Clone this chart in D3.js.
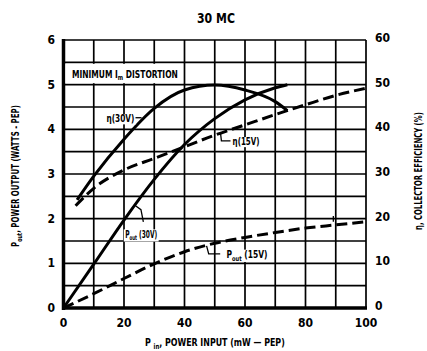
<!DOCTYPE html>
<html><head><meta charset="utf-8">
<script src="https://cdn.jsdelivr.net/npm/d3@7"></script>
<style>
html,body{margin:0;padding:0;background:#fff;}
text{font-family:"Liberation Sans Narrow","DejaVu Sans Condensed","Liberation Sans",sans-serif;font-weight:bold;fill:#000;}
</style></head>
<body><svg id="c" width="427" height="351"></svg>
<script>
// ---- data ----
const xTicks = [0, 20, 40, 60, 80, 100];
const leftTicks = [0, 1, 2, 3, 4, 5, 6];
const rightTicks = [0, 10, 20, 30, 40, 50, 60];

const effX30 = [4.5, 10, 20, 30, 40, 50, 60, 70, 74];
const eff30  = [24.2, 29.5, 37.8, 44.7, 48.8, 49.9, 48.8, 46.2, 44.2];   // η(30V) %
const effX15 = [4, 10, 20, 30, 40, 50, 60, 70, 80, 90, 100];
const eff15  = [22.9, 26.8, 30.9, 33.5, 36.1, 38.7, 41.0, 43.3, 45.5, 47.6, 49.2]; // η(15V) %
const powX30 = [0, 10, 20, 30, 40, 50, 60, 70, 74];
const pow30  = [0, 0.98, 1.97, 2.88, 3.66, 4.24, 4.66, 4.93, 5.0];  // Pout(30V) W
const powX15 = [0, 10, 20, 30, 40, 50, 60, 70, 80, 90, 100];
const pow15  = [0, 0.32, 0.66, 0.99, 1.26, 1.45, 1.58, 1.69, 1.79, 1.86, 1.93]; // Pout(15V) W

// ---- scales ----
const svg = d3.select("#c");
const x = d3.scaleLinear([0, 100], [63.5, 366]);
const yL = d3.scaleLinear([0, 6], [308, 40]);
const yR = d3.scaleLinear([0, 60], [308, 40]);

// text helper: parts = [[string, isSub]], fitted horizontally to target width
function ftext(px, py, rot, parts, fs, target, bg) {
  const grp = svg.append("g");
  const t = grp.append("text").attr("font-size", fs);
  let sub = false;
  parts.forEach(([s, isSub]) => {
    const ts = t.append("tspan").text(s);
    if (isSub && !sub) { ts.attr("font-size", fs * 0.68).attr("dy", fs * 0.25); sub = true; }
    else if (!isSub && sub) { ts.attr("dy", -fs * 0.25); sub = false; }
    else if (isSub) ts.attr("font-size", fs * 0.68);
  });
  const w = t.node().getComputedTextLength();
  const sx = target ? target / w : 1;
  grp.attr("transform", `translate(${px},${py}) rotate(${rot}) scale(${sx},1)`);
  if (bg) {
    const b = t.node().getBBox();
    svg.insert("rect", () => grp.node())
      .attr("x", px + b.x * sx - 1.5).attr("y", py + b.y + 1)
      .attr("width", b.width * sx + 3).attr("height", b.height - 1).attr("fill", "#fff");
  }
  return grp;
}

// grid
const g = svg.append("g");
g.selectAll("line.v").data(d3.range(0, 101, 10)).join("line")
  .attr("x1", d => x(d)).attr("x2", d => x(d)).attr("y1", yL(0)).attr("y2", yL(6))
  .attr("stroke", "#000").attr("stroke-width", 1.7);
g.selectAll("line.h").data(d3.range(0, 6.01, 0.5)).join("line")
  .attr("x1", x(0)).attr("x2", x(100)).attr("y1", d => yL(d)).attr("y2", d => yL(d))
  .attr("stroke", "#000").attr("stroke-width", 1.7);
// heavy axes
svg.append("line").attr("x1", x(0)).attr("x2", x(0)).attr("y1", yL(6) - 1).attr("y2", yL(0) + 2)
  .attr("stroke", "#000").attr("stroke-width", 3.5);
svg.append("line").attr("x1", x(0) - 1.5).attr("x2", x(100) + 1).attr("y1", yL(0)).attr("y2", yL(0))
  .attr("stroke", "#000").attr("stroke-width", 3.5);

// label box
svg.append("rect").attr("x", x(0) + 2).attr("y", yL(5.5) + 1.5).attr("width", x(39.5) - x(0) - 2)
  .attr("height", yL(5) - yL(5.5) - 3).attr("fill", "#fff");
ftext(x(2.8), yL(5.25) + 4, 0, [["MINIMUM I"], ["m", true], [" DISTORTION"]], 10.5, 106);

// curves
const line = (ys) => d3.line().x(d => x(d[0])).y(d => ys(d[1])).curve(d3.curveMonotoneX);
const series = [
  {xs: effX30, vs: eff30, s: yR, dash: null},
  {xs: effX15, vs: eff15, s: yR, dash: "11,5"},
  {xs: powX30, vs: pow30, s: yL, dash: null},
  {xs: powX15, vs: pow15, s: yL, dash: "11,5"}
];
series.forEach(sr => {
  svg.append("path").datum(d3.zip(sr.xs, sr.vs)).attr("d", line(sr.s))
    .attr("fill", "none").attr("stroke", "#000").attr("stroke-width", 3)
    .attr("stroke-dasharray", sr.dash);
});

// curve labels & leaders
const ld = (pts) => svg.append("path").attr("d", d3.line()(pts.map(p => [x(p[0]), yL(p[1])])))
  .attr("fill", "none").attr("stroke", "#000").attr("stroke-width", 1.3);

ftext(x(14.2), yL(4.25) + 4, 0, [["η(30V)"]], 10, 28, true);
ld([[23.8, 4.26], [25.8, 4.26]]);

ftext(x(55.9), yL(3.74) + 4, 0, [["η(15V)"]], 10, 27, true);
ld([[51.9, 3.92], [52.2, 3.74], [55.2, 3.74]]);

ftext(x(20.4), yL(1.66) + 4, 0, [["P"], ["out", true], [" (30V)"]], 10, 32, true);
ld([[23.8, 2.29], [25.6, 2.2], [26.4, 1.93]]);

ftext(x(53.9), yL(1.2) + 4, 0, [["P"], ["out", true], [" (15V)"]], 10, 41, true);
ld([[47.3, 1.39], [48.0, 1.21], [51.8, 1.21]]);
ld([[89.2, 2.06], [89.2, 1.93]]);

// tick labels
svg.append("g").selectAll("text").data(xTicks).join("text")
  .attr("x", d => x(d)).attr("y", 327).attr("text-anchor", "middle").attr("font-size", 12).text(d => d);
svg.append("g").selectAll("text").data(leftTicks).join("text")
  .attr("x", 55).attr("y", d => yL(d) + 4).attr("text-anchor", "end").attr("font-size", 12).text(d => d);
svg.append("g").selectAll("text").data(rightTicks).join("text")
  .attr("x", 375).attr("y", d => yR(d) + 2).attr("text-anchor", "start").attr("font-size", 12).text(d => d);

// titles
ftext(197, 23, 0, [["30 MC"]], 14.5, 38);
ftext(145, 346, 0, [["P "], ["in", true], [", POWER INPUT  (mW — PEP)"]], 11, 140);
ftext(19, 247, -90, [["P"], ["out", true], [", POWER OUTPUT (WATTS - PEP)"]], 10.5, 142);
ftext(422, 230, -90, [["η, COLLECTOR EFFICIENCY (%)"]], 10.5, 118);
</script></body></html>
